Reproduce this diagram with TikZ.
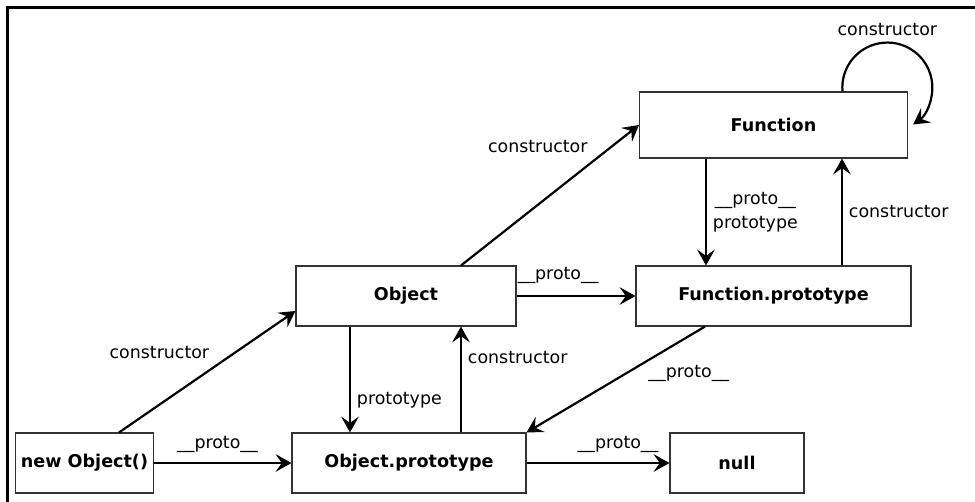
\documentclass[tikz,border=0pt]{standalone}
\usepackage{fontspec}
\setmainfont{DejaVu Sans}
\usetikzlibrary{arrows.meta,positioning}

\tikzset{
  obox/.style={draw=black!80, line width=0.6pt, font=\bfseries, minimum height=1.2cm},
  lbl/.style={font=\fontsize{9.9}{14}\selectfont}
}

\begin{document}
\begin{tikzpicture}[%
>={Stealth[length=9pt,width=10pt,inset=3.5pt]},
on grid,
line width=1.25pt,
font=\fontsize{9.9}{14}\selectfont
]
\useasboundingbox (0,0) rectangle (19.5,-10.04);
\draw (19.5,-0.15) -- (0.15,-0.15) -- (0.15,-10.04);

\node[obox, minimum width=4.4cm] (obj) at (8.12,-5.92) {Object};
\node[obox, minimum width=5.5cm] (fnproto) [right=7.35cm of obj] {Function.prototype};
\node[obox, minimum width=5.36cm, minimum height=1.32cm] (fn) [above=3.42cm of fnproto] {Function};
\node[obox, minimum width=4.68cm] (objproto) [below=3.34cm of obj, xshift=0.06cm] {Object.prototype};
\node[obox, minimum width=2.74cm] (newobj) [left=6.49cm of objproto] {new Object()};
\node[obox, minimum width=2.68cm] (null) [right=6.56cm of objproto] {null};

% constructor links
\draw[->] ([xshift=0.69cm]newobj.north) -- ([yshift=-0.3cm]obj.west)
  node[lbl, pos=0.55, above left] {constructor};
\draw[->] ([xshift=1.04cm]objproto.north) -- ([xshift=1.04cm]objproto.north |- obj.south)
  node[lbl, pos=0.71, right=0pt] {constructor};
\draw[->] ([xshift=1.1cm]obj.north) -- (fn.west)
  node[lbl, pos=0.75, above left] {constructor};
\draw[->] ([xshift=1.37cm]fnproto.north) -- ([xshift=1.37cm]fnproto.north |- fn.south)
  node[lbl, midway, right=0pt] {constructor};
\draw[->] ([xshift=1.38cm]fn.north) arc[start angle=185, end angle=-55, radius=0.9cm]
  node[lbl, pos=0.396, above] {constructor};

% prototype links
\draw[->] ([xshift=-1.12cm]obj.south) -- ([xshift=-1.12cm]obj.south |- objproto.north)
  node[lbl, pos=0.7, right=0pt] {prototype};
\draw[->] ([xshift=-1.35cm]fn.south) -- ([xshift=-1.35cm]fn.south |- fnproto.north)
  node[lbl, midway, right=0pt, align=center] {\_\_proto\_\_\\prototype};

% __proto__ links
\draw[->] (newobj) -- (objproto) node[lbl, pos=0.46, above=2pt] {\_\_proto\_\_};
\draw[->] (obj) -- (fnproto) node[lbl, pos=0.35, above=3pt] {\_\_proto\_\_};
\draw[->] ([xshift=-1.37cm]fnproto.south) -- (objproto.north east)
  node[lbl, pos=0.3, anchor=north west, xshift=-0.2cm] {\_\_proto\_\_};
\draw[->] (objproto) -- (null) node[lbl, pos=0.64, above=2pt] {\_\_proto\_\_};

\end{tikzpicture}
\end{document}
